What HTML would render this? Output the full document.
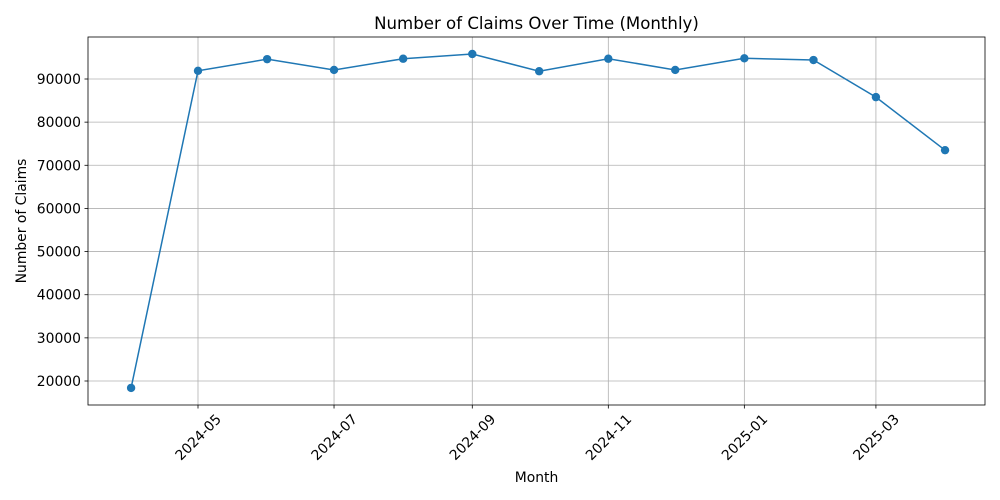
<!DOCTYPE html>
<html><head><meta charset="utf-8"><style>
body{margin:0;background:#fff;}
svg{display:block;font-family:"DejaVu Sans","Liberation Sans",sans-serif;}
</style></head><body>
<svg id="chart" width="1000" height="500"></svg>
<script>
const dates = ["2024-04-01","2024-05-01","2024-06-01","2024-07-01","2024-08-01","2024-09-01","2024-10-01","2024-11-01","2024-12-01","2025-01-01","2025-02-01","2025-03-01","2025-04-01"];
const claims = [18400,91900,94600,92100,94700,95800,91800,94700,92100,94800,94400,85800,73500];
const yTicks = [20000,30000,40000,50000,60000,70000,80000,90000];
const xTicks = ["2024-05","2024-07","2024-09","2024-11","2025-01","2025-03"];

const NS="http://www.w3.org/2000/svg";
const svg=document.getElementById('chart');
const L=88,R=985,T=37,B=405;
const day=864e5;
const x0=Date.parse("2024-05-01"), px0=198, pxPerDay=2.23;
function xs(d){return px0+(Date.parse(d)-x0)/day*pxPerDay;}
function ys(v){return 381-(v-20000)*302/70000;}
function el(tag,attrs,parent){const e=document.createElementNS(NS,tag);for(const k in attrs)e.setAttribute(k,attrs[k]);(parent||svg).appendChild(e);return e;}

yTicks.forEach(v=>{
  const y=ys(v);
  const g=el('line',{x1:L,x2:R,y1:y,y2:y,stroke:'#b0b0b0','stroke-width':0.8});
  
  
  el('line',{x1:L-3.5,x2:L,y1:y,y2:y,stroke:'#000','stroke-width':0.8});
  const t=el('text',{x:L-7,y:y+5,'text-anchor':'end','font-size':13.9,fill:'#000'});
  t.textContent=v;
  
  
});
xTicks.forEach(s=>{
  const x=xs(s+"-01");
  const g=el('line',{x1:x,x2:x,y1:T,y2:B,stroke:'#b0b0b0','stroke-width':0.8});
  
  
  el('line',{x1:x,x2:x,y1:B,y2:B+3.5,stroke:'#000','stroke-width':0.8});
  const cy=437;
  const t=el('text',{x:x,y:cy+5,'text-anchor':'middle','font-size':13.9,fill:'#000',transform:`rotate(-45 ${x} ${cy})`});
  t.textContent=s;
  
  
});
const frame=el('rect',{x:L,y:T,width:R-L,height:B-T,fill:'none',stroke:'#000','stroke-width':0.8});



const pts=dates.map((d,i)=>xs(d)+','+ys(claims[i])).join(' ');
const line=el('polyline',{points:pts,fill:'none',stroke:'#1f77b4','stroke-width':1.5});


dates.forEach((d,i)=>{
  const c=el('circle',{cx:xs(d),cy:ys(claims[i]),r:4.2,fill:'#1f77b4'});
  
  
});

const title=el('text',{x:(L+R)/2,y:29,'text-anchor':'middle','font-size':16.6,fill:'#000'});
title.textContent='Number of Claims Over Time (Monthly)';


const xt=el('text',{x:(L+R)/2,y:482,'text-anchor':'middle','font-size':13.9,fill:'#000'});
xt.textContent='Month';


const yt=el('text',{x:26,y:221,'text-anchor':'middle','font-size':13.9,fill:'#000',transform:'rotate(-90 26 221)'});
yt.textContent='Number of Claims';


</script>
</body></html>
